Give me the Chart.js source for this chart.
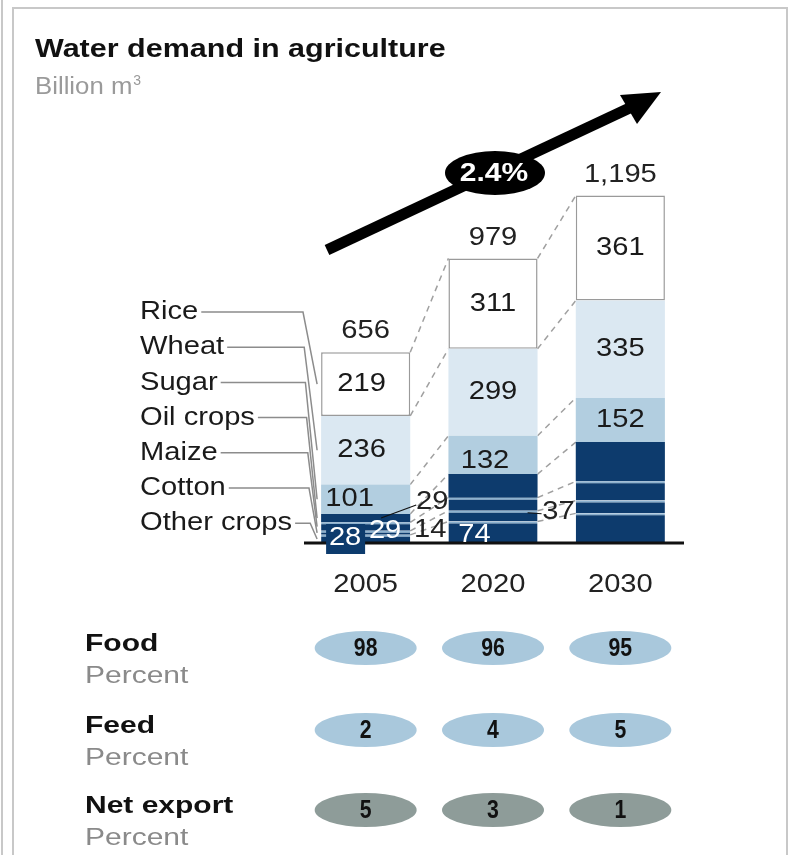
<!DOCTYPE html>
<html lang="en">
<head>
<meta charset="UTF-8">
<title>Water demand in agriculture</title>
<script src="https://cdn.jsdelivr.net/npm/chart.js"></script>
<style>
    body { margin: 0; background: #fff; }
    #wrap { position: relative; width: 796px; height: 855px; }
</style>
</head>
<body>
<div id="wrap"><canvas id="waterChart" width="796" height="855"></canvas></div>
<script>
    // Data, billion m3 (bottom segment first)
    const years = ['2005', '2020', '2030'];
    const totals = ['656', '979', '1,195'];
    const otherCrops = [28, 74, 102];
    const cotton = [14, 37, 44];
    const maize = [29, 45, 66];
    const oilCrops = [29, 81, 135];
    const sugar = [101, 132, 152];
    const wheat = [236, 299, 335];
    const rice = [219, 311, 361];
    const legendNames = ['Rice', 'Wheat', 'Sugar', 'Oil crops', 'Maize', 'Cotton', 'Other crops'];
    const growth = '2.4%';
    // share of demand, percent
    const food = [98, 96, 95];
    const feed = [2, 4, 5];
    const netExport = [5, 3, 1];

    const FONT = 'Arial, "Liberation Sans", sans-serif';
    const DARK = '#0d3b6d';
    const SEP = '#8db2cf';

    function seg(label, data, color, extra) {
        return Object.assign({
            label: label,
            data: data,
            backgroundColor: color,
            borderWidth: 0,
            barPercentage: 0.7,
            categoryPercentage: 1.0
        }, extra || {});
    }

    const sepBorder = { borderColor: SEP, borderWidth: { top: 2, left: 0, right: 0, bottom: 0 }, borderSkipped: false };

    const datasets = [
        seg('Other crops', otherCrops, DARK, sepBorder),
        seg('Cotton', cotton, DARK, sepBorder),
        seg('Maize', maize, DARK, sepBorder),
        seg('Oil crops', oilCrops, DARK),
        seg('Sugar', sugar, '#b2cee0'),
        seg('Wheat', wheat, '#dbe8f2'),
        seg('Rice', rice, '#ffffff', { borderColor: '#9a9a9a', borderWidth: 1.5, borderSkipped: false })
    ];

    // text drawn with a horizontal stretch (the original type is wider than Arial)
    function text(ctx, s, x, y, font, color, align, sx) {
        sx = sx || 1.12;
        ctx.save();
        ctx.font = font;
        ctx.fillStyle = color;
        ctx.textAlign = align || 'center';
        ctx.textBaseline = 'middle';
        ctx.translate(x, y);
        ctx.scale(sx, 1);
        ctx.fillText(s, 0, 0);
        ctx.restore();
        ctx.font = font;
        return ctx.measureText(s).width * sx;
    }

    const extras = {
        id: 'extras',
        beforeDraw(chart) {
            const ctx = chart.ctx;
            ctx.save();
            ctx.fillStyle = '#fff';
            ctx.fillRect(0, 0, chart.width, chart.height);
            ctx.strokeStyle = '#c8c8c8';
            ctx.lineWidth = 2;
            ctx.strokeRect(13, 8, 774, 880);
            ctx.beginPath();
            ctx.moveTo(2, 0); ctx.lineTo(2, 855);
            ctx.stroke();
            ctx.restore();
        },
        beforeDatasetsDraw(chart) {
            // dashed connectors between bars at each segment boundary
            const ctx = chart.ctx;
            ctx.save();
            ctx.strokeStyle = '#a0a0a0';
            ctx.lineWidth = 1.5;
            ctx.setLineDash([6, 5]);
            const n = chart.data.datasets.length;
            for (let d = 0; d < n; d++) {
                const meta = chart.getDatasetMeta(d);
                for (let i = 0; i < years.length - 1; i++) {
                    const a = meta.data[i], b = meta.data[i + 1];
                    ctx.beginPath();
                    ctx.moveTo(a.x + a.width / 2, a.y);
                    ctx.lineTo(b.x - b.width / 2, b.y);
                    ctx.stroke();
                }
            }
            ctx.restore();
        },
        afterDatasetsDraw(chart) {
            const ctx = chart.ctx;
            const area = chart.chartArea;
            const metas = chart.data.datasets.map((d, i) => chart.getDatasetMeta(i));
            const el = (name, i) => metas[chart.data.datasets.findIndex(d => d.label === name)].data[i];
            ctx.save();

            // baseline
            ctx.strokeStyle = '#111';
            ctx.lineWidth = 3;
            ctx.beginPath();
            ctx.moveTo(area.left + 2, area.bottom);
            ctx.lineTo(area.right, area.bottom);
            ctx.stroke();

            const f26 = '26px ' + FONT;
            // totals and year labels
            years.forEach((yr, i) => {
                const top = el('Rice', i);
                text(ctx, totals[i], top.x, top.y - 21, f26, '#222');
                text(ctx, yr, top.x, area.bottom + 42, f26, '#222');
            });

            // segment values: rice, wheat, sugar
            const offs = [-16, -8, 0];
            years.forEach((yr, i) => {
                ['Rice', 'Wheat', 'Sugar'].forEach((name, k) => {
                    const e = el(name, i);
                    const dx = k === 2 ? offs[i] : (i === 0 ? -4 : 0);
                    const dy = (k === 2 && i === 1) ? 6 : 0;
                    const v = chart.data.datasets.find(d => d.label === name).data[i];
                    text(ctx, String(v), e.x + dx, (e.y + e.base) / 2 + dy, f26, '#1a1a1a');
                });
            });

            // small labels, 2005
            const b0 = el('Other crops', 0);
            const left0 = b0.x - b0.width / 2, right0 = b0.x + b0.width / 2;
            ctx.fillStyle = DARK;
            ctx.fillRect(left0 + 5, b0.base - 19, 39, 30);
            text(ctx, String(otherCrops[0]), left0 + 24, b0.base - 5, f26, '#fff');
            text(ctx, String(maize[0]), left0 + 64, b0.base - 12, f26, '#fff');
            text(ctx, String(cotton[0]), right0 + 20, b0.base - 13, f26, '#222');
            text(ctx, String(oilCrops[0]), right0 + 22, b0.base - 41, f26, '#222');
            ctx.strokeStyle = '#111';
            ctx.lineWidth = 1.2;
            ctx.beginPath();
            ctx.moveTo(left0 + 60, b0.base - 25);
            ctx.lineTo(right0 + 6, b0.base - 38);
            ctx.stroke();

            // small labels, 2020
            const b1 = el('Other crops', 1);
            const left1 = b1.x - b1.width / 2, right1 = b1.x + b1.width / 2;
            text(ctx, String(otherCrops[1]), left1 + 26, b1.base - 8, f26, '#fff');
            const c1 = el('Cotton', 1);
            ctx.beginPath();
            ctx.moveTo(right1 - 10, c1.y + 2);
            ctx.lineTo(right1 + 4, c1.y + 3);
            ctx.stroke();
            text(ctx, String(cotton[1]), right1 + 21, c1.y + 1, f26, '#222');

            // legend with leader lines to the 2005 bar
            ctx.strokeStyle = '#8c8c8c';
            ctx.lineWidth = 1.5;
            legendNames.forEach((name, k) => {
                const ly = 312 + k * 35.2;
                const w = text(ctx, name, 140, ly, f26, '#1a1a1a', 'left');
                const e = el(name, 0);
                const bend = area.left + 1 + k * 1.2;
                ctx.beginPath();
                ctx.moveTo(140 + w + 3, ly);
                ctx.lineTo(bend, ly);
                ctx.lineTo(left0 - 4, Math.min((e.y + e.base) / 2, area.bottom - 3));
                ctx.stroke();
            });

            // growth arrow
            ctx.strokeStyle = '#000';
            ctx.fillStyle = '#000';
            ctx.lineWidth = 11;
            ctx.beginPath();
            ctx.moveTo(327, 250);
            ctx.lineTo(636, 105);
            ctx.stroke();
            ctx.beginPath();
            ctx.moveTo(661, 92);
            ctx.lineTo(620, 95);
            ctx.lineTo(637, 124);
            ctx.closePath();
            ctx.fill();
            ctx.beginPath();
            ctx.ellipse(495, 173, 50, 22, 0, 0, Math.PI * 2);
            ctx.fill();
            text(ctx, growth, 494, 174, 'bold 25px ' + FONT, '#fff', 'center', 1.2);

            // title
            text(ctx, 'Water demand in agriculture', 35, 50, 'bold 25px ' + FONT, '#111', 'left', 1.22);
            const bw = text(ctx, 'Billion m', 35, 88, '23px ' + FONT, '#9a9a9a', 'left', 1.12);
            text(ctx, '3', 35 + bw + 1, 81, '14px ' + FONT, '#9a9a9a', 'left', 1.0);

            // share rows
            const rows = [
                { name: 'Food', vals: food, y: 648, color: '#a9c8dc' },
                { name: 'Feed', vals: feed, y: 730, color: '#a9c8dc' },
                { name: 'Net export', vals: netExport, y: 810, color: '#8e9c99' }
            ];
            rows.forEach(r => {
                text(ctx, r.name, 85, r.y - 4, 'bold 24px ' + FONT, '#111', 'left', 1.25);
                text(ctx, 'Percent', 85, r.y + 28, '24px ' + FONT, '#8a8a8a', 'left', 1.25);
                r.vals.forEach((v, i) => {
                    const x = el('Rice', i).x;
                    ctx.fillStyle = r.color;
                    ctx.beginPath();
                    ctx.ellipse(x, r.y, 51, 17, 0, 0, Math.PI * 2);
                    ctx.fill();
                    text(ctx, String(v), x, r.y + 1, 'bold 25px ' + FONT, '#111', 'center', 0.85);
                });
            });
            ctx.restore();
        }
    };

    const ctx = document.getElementById('waterChart').getContext('2d');
    const waterChart = new Chart(ctx, {
        type: 'bar',
        data: { labels: years, datasets: datasets },
        options: {
            responsive: false,
            animation: false,
            layout: { padding: { left: 302, right: 112, top: 136, bottom: 312 } },
            scales: {
                x: { stacked: true, display: false },
                y: { stacked: true, display: false, min: 0, max: 1400 }
            },
            plugins: { legend: { display: false }, tooltip: { enabled: false } }
        },
        plugins: [extras]
    });
</script>
</body>
</html>
